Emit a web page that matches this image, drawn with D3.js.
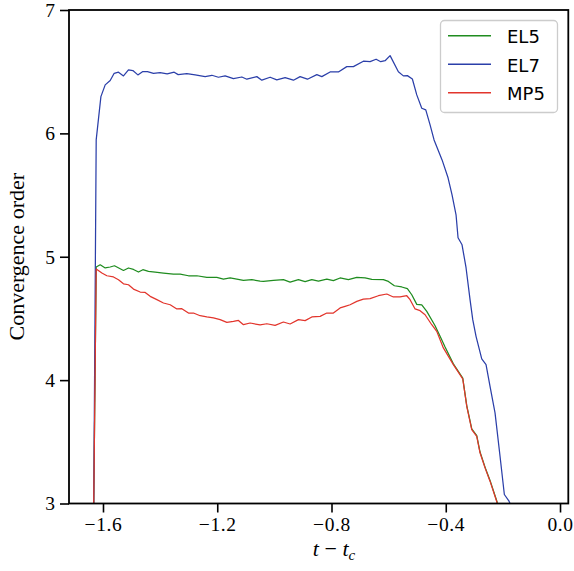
<!DOCTYPE html>
<html>
<head>
<meta charset="utf-8">
<script src="https://cdn.jsdelivr.net/npm/d3@7"></script>
<style>
  html, body { margin: 0; padding: 0; background: #fff; }
  svg { display: block; }
</style>
</head>
<body>
<svg id="chart" width="574" height="571"></svg>
<script>
// ---- Data ----
const seriesNames = ["EL5", "EL7", "MP5"];

const el7X = [-1.6325, -1.6238, -1.6073, -1.5923, -1.5748, -1.5608, -1.5458, -1.5283, -1.5108, -1.4954,
  -1.4779, -1.4618, -1.4443, -1.4233, -1.4000, -1.3753, -1.3508, -1.3368, -1.3064, -1.2773,
  -1.2423, -1.2189, -1.1958, -1.1724, -1.1433, -1.1139, -1.0964, -1.0614, -1.0439, -1.0149,
  -0.9914, -0.9624, -0.9333, -0.9099, -0.8843, -0.8514, -0.8339, -0.8049, -0.7758, -0.7465,
  -0.7234, -0.6884, -0.6649, -0.6439, -0.6275, -0.6124, -0.5949, -0.5659, -0.5484, -0.5344,
  -0.5169, -0.5015, -0.4840, -0.4700, -0.4549, -0.4409, -0.4129, -0.3920, -0.3780, -0.3640,
  -0.3570, -0.3430, -0.3290, -0.3150, -0.3055, -0.2940, -0.2740, -0.2590, -0.2450, -0.2275,
  -0.2100, -0.1949, -0.1785, -0.1715];
const el7Y = [2.98, 5.947, 6.298, 6.393, 6.428, 6.487, 6.496, 6.466, 6.514, 6.509,
  6.474, 6.500, 6.500, 6.487, 6.492, 6.482, 6.496, 6.476, 6.484, 6.474,
  6.460, 6.471, 6.455, 6.466, 6.444, 6.457, 6.439, 6.460, 6.431, 6.455,
  6.433, 6.452, 6.431, 6.460, 6.439, 6.476, 6.460, 6.498, 6.498, 6.541,
  6.541, 6.585, 6.581, 6.601, 6.581, 6.589, 6.630, 6.500, 6.466, 6.468,
  6.441, 6.312, 6.204, 6.190, 6.069, 5.947, 5.785, 5.640, 5.502, 5.340,
  5.154, 5.097, 4.911, 4.652, 4.490, 4.355, 4.172, 4.126, 3.950, 3.734,
  3.383, 3.073, 3.019, 2.98];

const el5X = [-1.6325, -1.6238, -1.6098, -1.5923, -1.5748, -1.5598, -1.5398, -1.5283, -1.5108, -1.4933,
  -1.4758, -1.4604, -1.4408, -1.4173, -1.3883, -1.3533, -1.3298, -1.3008, -1.2714, -1.2364,
  -1.2014, -1.1783, -1.1549, -1.1314, -1.1083, -1.0789, -1.0499, -1.0383, -1.0033, -0.9683,
  -0.9449, -0.9158, -0.8924, -0.8689, -0.8458, -0.8164, -0.7934, -0.7699, -0.7409, -0.7115,
  -0.6824, -0.6590, -0.6184, -0.6009, -0.5799, -0.5540, -0.5344, -0.5190, -0.5015, -0.4840,
  -0.4665, -0.4374, -0.4199, -0.4024, -0.3734, -0.3405, -0.3265, -0.3090, -0.2915, -0.2800,
  -0.2625, -0.2450, -0.2205, -0.2170];
const el5Y = [2.98, 4.917, 4.935, 4.909, 4.917, 4.927, 4.903, 4.889, 4.909, 4.897,
  4.876, 4.895, 4.881, 4.876, 4.868, 4.860, 4.860, 4.846, 4.846, 4.832,
  4.832, 4.819, 4.828, 4.819, 4.808, 4.814, 4.803, 4.800, 4.808, 4.814,
  4.795, 4.814, 4.798, 4.814, 4.803, 4.819, 4.806, 4.828, 4.814, 4.832,
  4.828, 4.816, 4.814, 4.800, 4.765, 4.755, 4.741, 4.692, 4.614, 4.609,
  4.557, 4.441, 4.355, 4.268, 4.132, 4.016, 3.794, 3.605, 3.551, 3.417,
  3.295, 3.187, 3.014, 2.97];

const mp5X = [-1.6325, -1.6238, -1.6039, -1.5864, -1.5633, -1.5458, -1.5283, -1.5108, -1.4933, -1.4698,
  -1.4523, -1.4348, -1.4114, -1.3883, -1.3648, -1.3414, -1.3239, -1.3008, -1.2833, -1.2598,
  -1.2364, -1.2133, -1.1899, -1.1664, -1.1433, -1.1258, -1.1083, -1.0849, -1.0499, -1.0264,
  -0.9974, -0.9683, -0.9449, -0.9158, -0.8924, -0.8689, -0.8399, -0.8164, -0.7934, -0.7699,
  -0.7524, -0.7349, -0.7115, -0.6884, -0.6649, -0.6359, -0.6065, -0.5834, -0.5599, -0.5365,
  -0.5249, -0.5074, -0.4899, -0.4724, -0.4490, -0.4315, -0.4084, -0.3734, -0.3405, -0.3265,
  -0.3090, -0.2915, -0.2800, -0.2625, -0.2450, -0.2205, -0.2170];
const mp5Y = [2.98, 4.900, 4.868, 4.846, 4.836, 4.814, 4.781, 4.773, 4.738, 4.714,
  4.711, 4.679, 4.652, 4.625, 4.611, 4.577, 4.579, 4.544, 4.544, 4.522,
  4.512, 4.504, 4.490, 4.468, 4.476, 4.484, 4.449, 4.463, 4.447, 4.457,
  4.444, 4.471, 4.455, 4.490, 4.482, 4.512, 4.517, 4.544, 4.544, 4.585,
  4.598, 4.611, 4.638, 4.657, 4.660, 4.684, 4.698, 4.674, 4.674, 4.684,
  4.652, 4.577, 4.563, 4.530, 4.449, 4.395, 4.261, 4.126, 4.010, 3.788,
  3.599, 3.545, 3.411, 3.289, 3.181, 3.008, 2.968];

const xTicks = [-1.6, -1.2, -0.8, -0.4, 0.0];
const xTickLabels = ["\u22121.6", "\u22121.2", "\u22120.8", "\u22120.4", "0.0"];
const yTicks = [3, 4, 5, 6, 7];
const yTickLabels = ["3", "4", "5", "6", "7"];

// ---- Drawing ----
(function () {
const svg = d3.select("#chart");
const pLeft = 69, pRight = 568.3, pTop = 10, pBottom = 503.5;

const x = d3.scaleLinear().domain([-1.719, 0.029]).range([pLeft, pRight]);
const y = d3.scaleLinear().domain([3, 7]).range([pBottom, pTop]);

svg.append("rect").attr("width", 574).attr("height", 571).attr("fill", "#fff");

svg.append("clipPath").attr("id", "plotclip")
  .append("rect").attr("x", pLeft).attr("y", pTop)
  .attr("width", pRight - pLeft).attr("height", pBottom - pTop);

const series = [
  { name: seriesNames[0], xs: el5X, ys: el5Y, color: "#1f8c1f" },
  { name: seriesNames[1], xs: el7X, ys: el7Y, color: "#2b3fa9" },
  { name: seriesNames[2], xs: mp5X, ys: mp5Y, color: "#e2352c" }
];

const line = d3.line().x(d => x(d[0])).y(d => y(d[1]));
const plot = svg.append("g").attr("clip-path", "url(#plotclip)");
series.forEach(s => {
  const pts = s.xs.map((v, i) => [v, s.ys[i]]);
  plot.append("path").datum(pts)
    .attr("d", line)
    .attr("fill", "none")
    .attr("stroke", s.color)
    .attr("stroke-width", 1.25)
    .attr("stroke-linejoin", "round");
});

// Axes
const tickFont = "'Liberation Serif', 'DejaVu Serif', serif";
const xAxis = d3.axisBottom(x).tickValues(xTicks)
  .tickFormat((d, i) => xTickLabels[i]).tickSize(9).tickPadding(5);
const gx = svg.append("g").attr("transform", `translate(0,${pBottom})`).call(xAxis);
gx.select(".domain").remove();
gx.selectAll(".tick line").attr("stroke", "#000").attr("stroke-width", 1.6);
gx.selectAll(".tick text").attr("font-family", tickFont).attr("font-size", 19.5).attr("fill", "#000")
  .attr("letter-spacing", 0.6);

const yAxis = d3.axisLeft(y).tickValues(yTicks)
  .tickFormat((d, i) => yTickLabels[i]).tickSize(9).tickPadding(5);
const gy = svg.append("g").attr("transform", `translate(${pLeft},0)`).call(yAxis);
gy.select(".domain").remove();
gy.selectAll(".tick line").attr("stroke", "#000").attr("stroke-width", 1.6);
gy.selectAll(".tick text").attr("font-family", tickFont).attr("font-size", 19.5).attr("fill", "#000");

// Frame
svg.append("rect").attr("x", pLeft).attr("y", pTop)
  .attr("width", pRight - pLeft).attr("height", pBottom - pTop)
  .attr("fill", "none").attr("stroke", "#000").attr("stroke-width", 1.8);

// Axis labels
const xl = svg.append("text").attr("x", 334).attr("y", 556)
  .attr("text-anchor", "middle").attr("font-family", tickFont).attr("font-size", 22).attr("fill", "#000");
xl.append("tspan").attr("font-style", "italic").text("t");
xl.append("tspan").text(" \u2212 ");
xl.append("tspan").attr("font-style", "italic").text("t");
xl.append("tspan").attr("font-style", "italic").attr("font-size", 15).attr("dy", 4).text("c");

svg.append("text")
  .attr("transform", `translate(24,${(pTop + pBottom) / 2}) rotate(-90)`)
  .attr("text-anchor", "middle")
  .attr("font-family", tickFont).attr("font-size", 22).attr("fill", "#000")
  .text("Convergence order");

// Legend
const lg = svg.append("g");
lg.append("rect").attr("x", 440.5).attr("y", 20.5).attr("width", 117).attr("height", 92)
  .attr("rx", 4).attr("fill", "#fff").attr("fill-opacity", 0.8)
  .attr("stroke", "#cccccc").attr("stroke-width", 1.3);
const legY = d3.scalePoint().domain(seriesNames).range([35.7, 92.7]);
series.forEach(s => {
  const yy = legY(s.name);
  lg.append("line").attr("x1", 448).attr("x2", 491).attr("y1", yy).attr("y2", yy)
    .attr("stroke", s.color).attr("stroke-width", 1.6);
  lg.append("text").attr("x", 507).attr("y", yy + 7.5)
    .attr("font-family", "'DejaVu Sans', sans-serif").attr("font-size", 18).attr("fill", "#000")
    .text(s.name);
});
})();
</script>
</body>
</html>
